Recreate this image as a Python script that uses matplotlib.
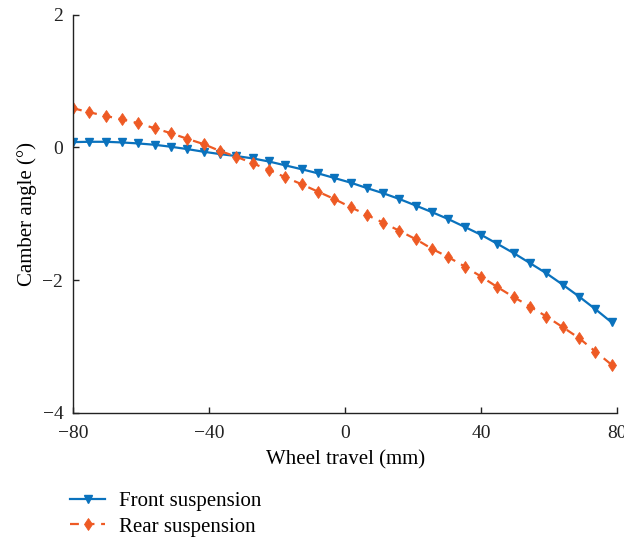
import numpy as np
import matplotlib
matplotlib.use("Agg")
import matplotlib.pyplot as plt

# wheel travel samples (mm), 4.8 mm step from -80
wheel_travel = [-80.0, -75.2, -70.4, -65.6, -60.8, -56.0, -51.2, -46.4, -41.6, -36.8,
                -32.0, -27.2, -22.4, -17.6, -12.8, -8.0, -3.2, 1.6, 6.4, 11.2,
                16.0, 20.8, 25.6, 30.4, 35.2, 40.0, 44.8, 49.6, 54.4, 59.2,
                64.0, 68.8, 73.6, 78.4]

# camber angle (deg)
front_camber = [0.08, 0.085, 0.085, 0.075, 0.06, 0.04, 0.01, -0.025, -0.065, -0.10,
                 -0.13, -0.165, -0.212, -0.27, -0.328, -0.39, -0.46, -0.53, -0.612, -0.69,
                 -0.778, -0.876, -0.976, -1.081, -1.198, -1.317, -1.453, -1.593, -1.744, -1.897,
                 -2.068, -2.247, -2.437, -2.637]

rear_camber = [0.59, 0.53, 0.474, 0.423, 0.364, 0.289, 0.214, 0.13, 0.05, -0.053,
               -0.139, -0.238, -0.339, -0.449, -0.554, -0.666, -0.776, -0.90, -1.017, -1.133,
               -1.258, -1.383, -1.529, -1.654, -1.795, -1.946, -2.105, -2.256, -2.397, -2.548,
               -2.708, -2.873, -3.075, -3.276]

BLUE = "#0A72BD"
ORANGE = "#EE5A24"

plt.rcParams["font.family"] = ["Liberation Serif", "DejaVu Serif"]
plt.rcParams["font.size"] = 15
plt.rcParams["axes.unicode_minus"] = True

fig = plt.figure(figsize=(6.24, 5.44), dpi=100)
ax = fig.add_axes([0.117, 0.241, 0.872, 0.732])

ax.plot(wheel_travel, front_camber, color=BLUE, lw=1.6, marker="v",
        markersize=6, label="Front suspension")
ax.plot(wheel_travel, rear_camber, color=ORANGE, lw=1.6, ls=(0, (4, 3)),
        marker="d", markersize=6, markeredgewidth=0.6, label="Rear suspension")

ax.set_xlim(-80, 80)
ax.set_ylim(-4, 2)
ax.set_xticks([-80, -40, 0, 40, 80])
ax.set_yticks([-4, -2, 0, 2])
for side in ("top", "right"):
    ax.spines[side].set_visible(False)
for side in ("left", "bottom"):
    ax.spines[side].set_linewidth(1.0)
    ax.spines[side].set_color("#222222")
ax.tick_params(direction="in", length=4, width=1.0, colors="#222222", labelsize=14)
ax.tick_params(axis="x", pad=9)
ax.tick_params(axis="y", pad=7)

ax.set_xlabel("Wheel travel (mm)", labelpad=6)
ax.set_ylabel("Camber angle (°)", labelpad=4)

fig.legend(loc="upper left", bbox_to_anchor=(0.112, 0.097), frameon=False,
           handlelength=1.7, handletextpad=0.65, labelspacing=0.3, borderaxespad=0,
           borderpad=0)

fig.savefig("out.png", dpi=100)
